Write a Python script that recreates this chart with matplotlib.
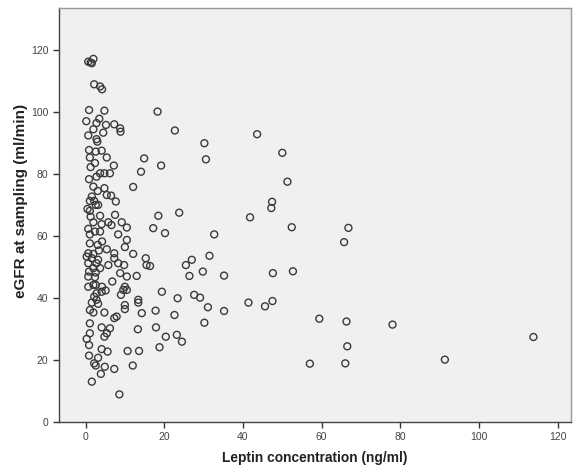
import matplotlib
matplotlib.use("Agg")
import matplotlib.pyplot as plt

plt.rcParams['font.family'] = ['Liberation Sans', 'DejaVu Sans']

# Leptin concentration (ng/ml)
leptin = [
    0.7, 1.3, 2.0, 1.6, 2.2, 3.7, 4.2, 0.9, 4.8, 18.3,
    0.2, 3.5, 2.8, 5.2, 7.3, 8.8, 8.9, 22.7, 2.0, 4.5,
    0.7, 2.8, 30.2, 43.6, 3.0, 0.9, 2.6, 4.1, 5.4, 1.1,
    2.4, 1.3, 7.2, 14.9, 19.2, 30.6, 14.1, 3.7, 4.8, 6.2,
    2.8, 0.9, 2.0, 4.8, 12.1, 3.1, 5.4, 6.5, 1.6, 1.1,
    2.2, 7.7, 2.6, 3.2, 0.5, 1.1, 18.5, 23.8, 7.5, 3.7,
    1.3, 2.0, 5.8, 9.2, 4.1, 6.6, 10.5, 17.2, 20.2, 0.7,
    2.4, 3.7, 8.3, 1.1, 10.5, 1.1, 3.1, 4.2, 10.0, 5.4,
    3.4, 0.7, 2.0, 0.3, 7.3, 12.1, 7.3, 15.3, 1.6, 3.2,
    0.7, 2.8, 5.8, 8.3, 9.8, 15.5, 16.4, 2.0, 3.7, 0.9,
    2.6, 8.8, 13.0, 10.5, 0.7, 2.4, 6.8, 2.0, 2.6, 0.7,
    4.2, 10.0, 9.6, 10.5, 5.1, 4.1, 2.8, 19.4, 9.0, 2.2,
    13.4, 13.4, 2.8, 23.4, 1.6, 3.2, 10.0, 10.0, 1.1, 4.8,
    14.3, 17.8, 22.6, 2.0, 7.9, 7.3, 1.1, 4.1, 6.2, 13.3,
    17.9, 1.1, 5.4, 4.8, 20.4, 23.2, 24.5, 0.3, 0.9, 18.8,
    4.1, 5.6, 10.7, 13.6, 0.9, 3.2, 2.2, 2.6, 4.9, 7.3,
    12.0, 3.9, 1.6, 8.6, 41.8, 32.7, 31.5, 27.0, 25.5, 29.8,
    35.2, 26.4, 27.6, 29.1, 31.1, 35.2, 41.4, 30.2, 50.0, 51.3,
    47.4, 47.2, 52.4, 66.8, 65.7, 47.6, 52.7, 45.6, 47.5, 59.4,
    66.3, 78.0, 113.8, 66.5, 57.0, 66.0, 91.3,
]

# eGFR at sampling (ml/min)
egfr = [
    116.2, 115.9, 117.1, 115.7, 108.9, 108.2, 107.3, 100.6, 100.4, 100.1,
    97.0, 97.8, 96.4, 95.8, 96.0, 94.7, 93.6, 94.0, 94.4, 93.3,
    92.4, 91.2, 89.9, 92.8, 90.4, 87.7, 87.2, 87.5, 85.3, 85.3,
    83.5, 82.2, 82.7, 85.0, 82.7, 84.7, 80.7, 80.2, 80.2, 80.2,
    79.1, 78.3, 75.9, 75.4, 75.8, 74.5, 73.2, 73.0, 72.7, 71.3,
    71.3, 71.1, 70.0, 70.0, 68.7, 68.1, 66.5, 67.5, 66.8, 66.5,
    66.2, 64.4, 64.4, 64.4, 63.8, 63.5, 62.7, 62.5, 60.9, 62.3,
    61.4, 61.4, 60.5, 60.5, 58.7, 57.6, 57.1, 58.2, 56.4, 55.7,
    55.3, 54.4, 54.2, 53.3, 54.4, 54.2, 52.8, 52.8, 52.8, 52.3,
    51.2, 51.2, 50.6, 51.2, 50.6, 50.6, 50.3, 49.6, 49.6, 48.5,
    48.2, 48.0, 47.1, 46.9, 46.9, 46.7, 45.3, 44.2, 44.2, 43.6,
    43.6, 43.6, 42.6, 42.6, 42.4, 42.0, 41.5, 42.0, 41.0, 40.4,
    39.4, 38.5, 39.4, 39.9, 38.5, 38.1, 37.7, 36.4, 36.1, 35.3,
    35.1, 35.9, 34.5, 35.3, 34.0, 33.5, 31.8, 30.5, 30.2, 29.9,
    30.5, 28.6, 28.6, 27.5, 27.5, 28.1, 25.9, 26.8, 24.8, 24.1,
    23.5, 22.7, 22.9, 22.9, 21.4, 20.7, 18.9, 18.2, 17.8, 17.1,
    18.2, 15.5, 13.0, 8.9, 66.0, 60.5, 53.6, 52.3, 50.6, 48.5,
    47.2, 47.1, 41.0, 40.1, 37.0, 35.8, 38.5, 32.0, 86.8, 77.5,
    71.0, 69.0, 62.8, 62.6, 58.0, 48.0, 48.6, 37.3, 39.0, 33.3,
    32.4, 31.4, 27.4, 24.4, 18.8, 18.9, 20.1,
]

x_ticks = [0, 20, 40, 60, 80, 100, 120]
y_ticks = [0, 20, 40, 60, 80, 100, 120]

fig = plt.figure(figsize=(5.76, 4.72), dpi=100)
ax = fig.add_axes([0.102, 0.106, 0.889, 0.877])
ax.set_facecolor('#f0f0f0')

ax.scatter(leptin, egfr, s=25, facecolors='none', edgecolors='#3a3a3a',
           linewidths=1.0, zorder=3)

ax.set_xlim(-6.8, 123.3)
ax.set_ylim(0, 133.5)
ax.set_xticks(x_ticks)
ax.set_yticks(y_ticks)
ax.tick_params(axis='both', direction='out', length=4, width=1,
               labelsize=7.5, colors='#333333', labelcolor='#444444')

for side in ['left', 'bottom']:
    ax.spines[side].set_color('#444444')
    ax.spines[side].set_linewidth(1.0)
for side in ['top', 'right']:
    ax.spines[side].set_color('#999999')
    ax.spines[side].set_linewidth(1.0)

ax.set_xlabel('Leptin concentration (ng/ml)', fontsize=9.9, fontweight='bold',
              color='#222222', labelpad=6)
ax.set_ylabel('eGFR at sampling (ml/min)', fontsize=11, fontweight='bold',
              color='#222222')
ax.yaxis.set_label_coords(-0.060, 0.534)

fig.savefig('out.png', dpi=100, facecolor='white')
